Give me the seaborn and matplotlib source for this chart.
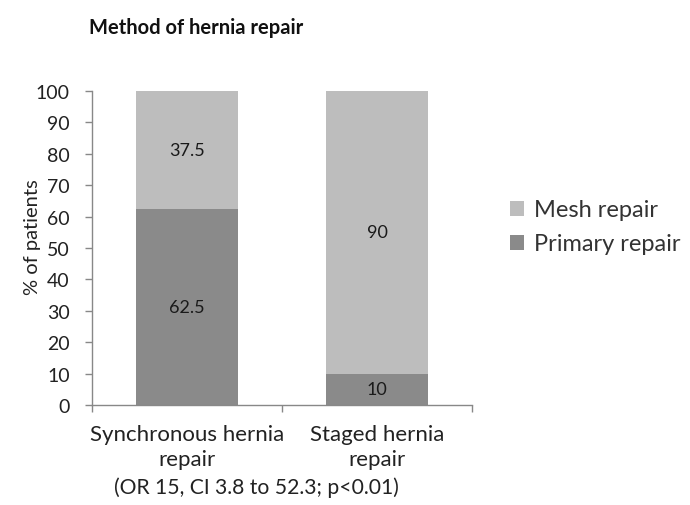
import numpy as np
import pandas as pd
import matplotlib
matplotlib.use('Agg')
import matplotlib.pyplot as plt
import seaborn as sns

# data
groups = ['Synchronous hernia\nrepair', 'Staged hernia\nrepair']
primary_repair = [62.5, 10]
mesh_repair = [37.5, 90]
note = '(OR 15, CI 3.8 to 52.3; p<0.01)'

mesh_color = '#bdbdbd'
primary_color = '#8a8a8a'

sns.set_theme(style='white')
plt.rcParams['font.family'] = ['Lato', 'DejaVu Sans']

df = pd.DataFrame({'group': groups, 'primary': primary_repair, 'mesh': mesh_repair})
df['total'] = df['primary'] + df['mesh']

fig = plt.figure(figsize=(6.9, 5.06), dpi=100)
ax = fig.add_axes([0.1333, 0.1976, 0.5507, 0.6206])

# stacked bars: full height in mesh colour, primary drawn on top from 0
sns.barplot(data=df, x='group', y='total', color=mesh_color, width=0.54,
            saturation=1, linewidth=0, ax=ax, label='Mesh repair')
sns.barplot(data=df, x='group', y='primary', color=primary_color, width=0.54,
            saturation=1, linewidth=0, ax=ax, label='Primary repair')

# segment labels
for i, (p, m) in enumerate(zip(primary_repair, mesh_repair)):
    ax.text(i, p / 2, f'{p:g}', ha='center', va='center', fontsize=13, color='#1a1a1a')
    ax.text(i, p + m / 2, f'{m:g}', ha='center', va='center', fontsize=13, color='#1a1a1a')

ax.set_ylim(0, 100)
ax.set_xlim(-0.5, 1.5)
ax.set_yticks(np.arange(0, 101, 10))
ax.set_ylabel('% of patients', fontsize=14.5, color='#222222')
ax.yaxis.set_label_coords(-0.135, 0.538)
ax.set_xlabel('')

for s in ['top', 'right']:
    ax.spines[s].set_visible(False)
for s in ['left', 'bottom']:
    ax.spines[s].set_color('#888888')
    ax.spines[s].set_linewidth(1)

# tick marks at category boundaries on x, labels at centres
ax.set_xticks([-0.5, 0.5, 1.5], minor=True)
ax.tick_params(axis='x', which='minor', length=5, color='#888888', width=1, direction='out', bottom=True)
ax.tick_params(axis='x', which='major', length=0, labelsize=16, labelcolor='#222222', pad=14)
for lbl in ax.get_xticklabels():
    lbl.set_linespacing(1.3)
ax.tick_params(axis='y', length=5, color='#888888', width=1, direction='out', left=True,
               labelsize=14, labelcolor='#222222', pad=11)

ax.text(0.434, -0.261, note, transform=ax.transAxes, ha='center', va='center',
        fontsize=15.2, color='#222222')

fig.text(0.284, 0.945, 'Method of hernia repair', ha='center', va='center',
         fontsize=14.5, fontweight='bold', color='#111111')

handles, labels = ax.get_legend_handles_labels()
ax.legend(handles, labels, loc='center left', bbox_to_anchor=(1.074, 0.567), frameon=False,
          borderaxespad=0, fontsize=17, handlelength=0.6, handleheight=0.6, handletextpad=0.45,
          labelspacing=0.55, labelcolor='#333333')

fig.savefig('out.png', dpi=100)
